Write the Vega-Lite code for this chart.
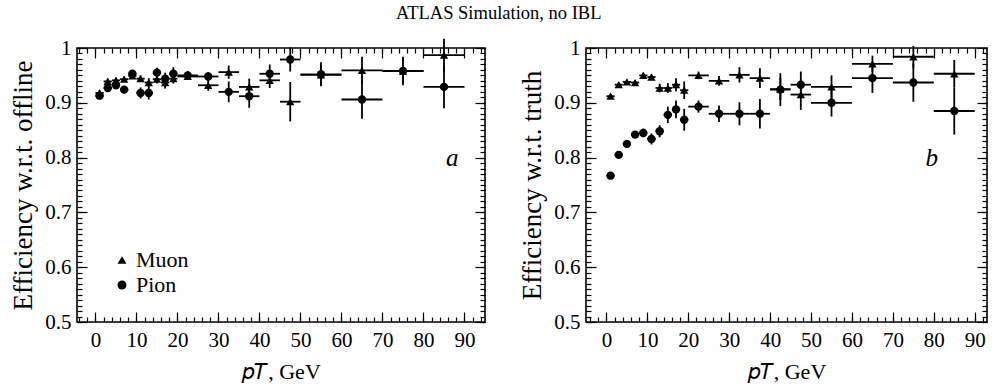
{
  "$schema": "https://vega.github.io/schema/vega-lite/v6.json",
  "padding": {"left": 8, "top": 3, "right": 0, "bottom": 0},
  "autosize": {"type": "pad"},
  "background": "white",
  "title": {"text": "ATLAS Simulation, no IBL", "font": "Liberation Serif", "fontSize": 18.5, "fontWeight": "normal", "color": "black", "anchor": "middle", "offset": 14},
  "config": {
    "font": "Liberation Serif",
    "view": {"stroke": "black", "strokeWidth": 1.6},
    "axis": {"grid": false, "domain": false, "ticks": true, "tickOpacity": 1, "tickColor": "black", "tickWidth": 1.2, "zindex": 2, "labelFont": "Liberation Serif", "labelFontSize": 21, "labelColor": "black", "titleFont": "Liberation Serif", "titleFontSize": 22, "titleFontWeight": "normal", "titleColor": "black", "labelOverlap": false, "labelFlush": false, "labelBound": false},
    "legend": {"labelFont": "Liberation Serif"}
  },
  "datasets": {
    "pts": [
      {"panel":"a","series":"Muon","pt":1,"lo":0,"hi":2,"eff":0.918,"err":0.005},
      {"panel":"a","series":"Muon","pt":3,"lo":2,"hi":4,"eff":0.939,"err":0.005},
      {"panel":"a","series":"Muon","pt":5,"lo":4,"hi":6,"eff":0.941,"err":0.005},
      {"panel":"a","series":"Muon","pt":7,"lo":6,"hi":8,"eff":0.943,"err":0.005},
      {"panel":"a","series":"Muon","pt":9,"lo":8,"hi":10,"eff":0.949,"err":0.005},
      {"panel":"a","series":"Muon","pt":11,"lo":10,"hi":12,"eff":0.944,"err":0.006},
      {"panel":"a","series":"Muon","pt":13,"lo":12,"hi":14,"eff":0.937,"err":0.008},
      {"panel":"a","series":"Muon","pt":15,"lo":14,"hi":16,"eff":0.943,"err":0.008},
      {"panel":"a","series":"Muon","pt":17,"lo":16,"hi":18,"eff":0.937,"err":0.011},
      {"panel":"a","series":"Muon","pt":19,"lo":18,"hi":20,"eff":0.944,"err":0.009},
      {"panel":"a","series":"Muon","pt":22.5,"lo":20,"hi":25,"eff":0.948,"err":0.006},
      {"panel":"a","series":"Muon","pt":27.5,"lo":25,"hi":30,"eff":0.932,"err":0.010},
      {"panel":"a","series":"Muon","pt":32.5,"lo":30,"hi":35,"eff":0.956,"err":0.012},
      {"panel":"a","series":"Muon","pt":37.5,"lo":35,"hi":40,"eff":0.929,"err":0.015},
      {"panel":"a","series":"Muon","pt":42.5,"lo":40,"hi":45,"eff":0.941,"err":0.014},
      {"panel":"a","series":"Muon","pt":47.5,"lo":45,"hi":50,"eff":0.902,"err":0.036},
      {"panel":"a","series":"Muon","pt":55,"lo":50,"hi":60,"eff":0.951,"err":0.018},
      {"panel":"a","series":"Muon","pt":65,"lo":60,"hi":70,"eff":0.959,"err":0.025},
      {"panel":"a","series":"Muon","pt":75,"lo":70,"hi":80,"eff":0.958,"err":0.022},
      {"panel":"a","series":"Muon","pt":85,"lo":80,"hi":90,"eff":0.987,"err":0.03},
      {"panel":"a","series":"Pion","pt":1,"lo":0,"hi":2,"eff":0.913,"err":0.005},
      {"panel":"a","series":"Pion","pt":3,"lo":2,"hi":4,"eff":0.927,"err":0.006},
      {"panel":"a","series":"Pion","pt":5,"lo":4,"hi":6,"eff":0.932,"err":0.006},
      {"panel":"a","series":"Pion","pt":7,"lo":6,"hi":8,"eff":0.924,"err":0.005},
      {"panel":"a","series":"Pion","pt":9,"lo":8,"hi":10,"eff":0.953,"err":0.006},
      {"panel":"a","series":"Pion","pt":11,"lo":10,"hi":12,"eff":0.918,"err":0.010},
      {"panel":"a","series":"Pion","pt":13,"lo":12,"hi":14,"eff":0.918,"err":0.012},
      {"panel":"a","series":"Pion","pt":15,"lo":14,"hi":16,"eff":0.955,"err":0.009},
      {"panel":"a","series":"Pion","pt":17,"lo":16,"hi":18,"eff":0.944,"err":0.011},
      {"panel":"a","series":"Pion","pt":19,"lo":18,"hi":20,"eff":0.953,"err":0.012},
      {"panel":"a","series":"Pion","pt":22.5,"lo":20,"hi":25,"eff":0.950,"err":0.008},
      {"panel":"a","series":"Pion","pt":27.5,"lo":25,"hi":30,"eff":0.948,"err":0.008},
      {"panel":"a","series":"Pion","pt":32.5,"lo":30,"hi":35,"eff":0.920,"err":0.019},
      {"panel":"a","series":"Pion","pt":37.5,"lo":35,"hi":40,"eff":0.912,"err":0.021},
      {"panel":"a","series":"Pion","pt":42.5,"lo":40,"hi":45,"eff":0.953,"err":0.017},
      {"panel":"a","series":"Pion","pt":47.5,"lo":45,"hi":50,"eff":0.979,"err":0.022},
      {"panel":"a","series":"Pion","pt":55,"lo":50,"hi":60,"eff":0.952,"err":0.022},
      {"panel":"a","series":"Pion","pt":65,"lo":60,"hi":70,"eff":0.906,"err":0.035},
      {"panel":"a","series":"Pion","pt":75,"lo":70,"hi":80,"eff":0.958,"err":0.026},
      {"panel":"a","series":"Pion","pt":85,"lo":80,"hi":90,"eff":0.929,"err":0.039},
      {"panel":"b","series":"Muon","pt":1,"lo":0,"hi":2,"eff":0.912,"err":0.004},
      {"panel":"b","series":"Muon","pt":3,"lo":2,"hi":4,"eff":0.933,"err":0.004},
      {"panel":"b","series":"Muon","pt":5,"lo":4,"hi":6,"eff":0.938,"err":0.004},
      {"panel":"b","series":"Muon","pt":7,"lo":6,"hi":8,"eff":0.937,"err":0.004},
      {"panel":"b","series":"Muon","pt":9,"lo":8,"hi":10,"eff":0.950,"err":0.005},
      {"panel":"b","series":"Muon","pt":11,"lo":10,"hi":12,"eff":0.947,"err":0.005},
      {"panel":"b","series":"Muon","pt":13,"lo":12,"hi":14,"eff":0.927,"err":0.008},
      {"panel":"b","series":"Muon","pt":15,"lo":14,"hi":16,"eff":0.927,"err":0.009},
      {"panel":"b","series":"Muon","pt":17,"lo":16,"hi":18,"eff":0.933,"err":0.012},
      {"panel":"b","series":"Muon","pt":19,"lo":18,"hi":20,"eff":0.923,"err":0.016},
      {"panel":"b","series":"Muon","pt":22.5,"lo":20,"hi":25,"eff":0.950,"err":0.007},
      {"panel":"b","series":"Muon","pt":27.5,"lo":25,"hi":30,"eff":0.940,"err":0.009},
      {"panel":"b","series":"Muon","pt":32.5,"lo":30,"hi":35,"eff":0.951,"err":0.014},
      {"panel":"b","series":"Muon","pt":37.5,"lo":35,"hi":40,"eff":0.945,"err":0.018},
      {"panel":"b","series":"Muon","pt":42.5,"lo":40,"hi":45,"eff":0.925,"err":0.020},
      {"panel":"b","series":"Muon","pt":47.5,"lo":45,"hi":50,"eff":0.915,"err":0.028},
      {"panel":"b","series":"Muon","pt":55,"lo":50,"hi":60,"eff":0.929,"err":0.021},
      {"panel":"b","series":"Muon","pt":65,"lo":60,"hi":70,"eff":0.971,"err":0.015},
      {"panel":"b","series":"Muon","pt":75,"lo":70,"hi":80,"eff":0.984,"err":0.02},
      {"panel":"b","series":"Muon","pt":85,"lo":80,"hi":90,"eff":0.953,"err":0.025},
      {"panel":"b","series":"Pion","pt":1,"lo":0,"hi":2,"eff":0.767,"err":0.003},
      {"panel":"b","series":"Pion","pt":3,"lo":2,"hi":4,"eff":0.805,"err":0.004},
      {"panel":"b","series":"Pion","pt":5,"lo":4,"hi":6,"eff":0.825,"err":0.005},
      {"panel":"b","series":"Pion","pt":7,"lo":6,"hi":8,"eff":0.842,"err":0.006},
      {"panel":"b","series":"Pion","pt":9,"lo":8,"hi":10,"eff":0.845,"err":0.008},
      {"panel":"b","series":"Pion","pt":11,"lo":10,"hi":12,"eff":0.834,"err":0.010},
      {"panel":"b","series":"Pion","pt":13,"lo":12,"hi":14,"eff":0.848,"err":0.011},
      {"panel":"b","series":"Pion","pt":15,"lo":14,"hi":16,"eff":0.878,"err":0.015},
      {"panel":"b","series":"Pion","pt":17,"lo":16,"hi":18,"eff":0.888,"err":0.016},
      {"panel":"b","series":"Pion","pt":19,"lo":18,"hi":20,"eff":0.869,"err":0.020},
      {"panel":"b","series":"Pion","pt":22.5,"lo":20,"hi":25,"eff":0.893,"err":0.011},
      {"panel":"b","series":"Pion","pt":27.5,"lo":25,"hi":30,"eff":0.880,"err":0.015},
      {"panel":"b","series":"Pion","pt":32.5,"lo":30,"hi":35,"eff":0.880,"err":0.021},
      {"panel":"b","series":"Pion","pt":37.5,"lo":35,"hi":40,"eff":0.880,"err":0.027},
      {"panel":"b","series":"Pion","pt":42.5,"lo":40,"hi":45,"eff":0.924,"err":0.030},
      {"panel":"b","series":"Pion","pt":47.5,"lo":45,"hi":50,"eff":0.933,"err":0.024},
      {"panel":"b","series":"Pion","pt":55,"lo":50,"hi":60,"eff":0.900,"err":0.025},
      {"panel":"b","series":"Pion","pt":65,"lo":60,"hi":70,"eff":0.945,"err":0.027},
      {"panel":"b","series":"Pion","pt":75,"lo":70,"hi":80,"eff":0.937,"err":0.035},
      {"panel":"b","series":"Pion","pt":85,"lo":80,"hi":90,"eff":0.885,"err":0.043}
    ],
    "ann": [
      {"panel":"a","pt":87,"eff":0.8,"label":"a"},
      {"panel":"b","pt":79.5,"eff":0.8,"label":"b"}
    ]
  },
  "spacing": 30,
  "resolve": {"scale": {"shape": "independent"}, "legend": {"shape": "independent"}},
  "hconcat": [
    {
      "width": 408, "height": 274,
      "resolve": {"axis": {"x": "independent", "y": "independent"}},
      "layer": [
        {
          "data": {"name": "pts"},
          "transform": [{"filter": "datum.panel === 'a'"}],
          "mark": {"type": "rule", "color": "black", "strokeWidth": 1.8},
          "encoding": {
            "x": {"field": "lo", "type": "quantitative", "scale": {"domain": [-4.5, 95], "nice": false, "zero": false},
              "axis": {"orient": "bottom", "values": [0,10,20,30,40,50,60,70,80,90], "tickSize": 10, "offset": -10, "labelPadding": 7, "format": "d", "title": "𝑝𝑇, GeV", "titlePadding": 11}},
            "x2": {"field": "hi"},
            "y": {"field": "eff", "type": "quantitative", "scale": {"domain": [0.5, 1], "nice": false, "zero": false},
              "axis": {"orient": "left", "values": [0.5,0.6,0.7,0.8,0.9,1], "tickSize": 10, "offset": -10, "labelPadding": 6, "format": ".1~f", "title": "Efficiency w.r.t. offline", "titleFontSize": 27, "titlePadding": 7}}
          }
        },
        {
          "data": {"name": "pts"},
          "transform": [{"filter": "datum.panel === 'a'"}],
          "mark": {"type": "errorbar", "color": "black", "thickness": 1.8},
          "encoding": {
            "x": {"field": "pt", "type": "quantitative",
              "axis": {"orient": "bottom", "values": [-4,-2,0,2,4,6,8,10,12,14,16,18,20,22,24,26,28,30,32,34,36,38,40,42,44,46,48,50,52,54,56,58,60,62,64,66,68,70,72,74,76,78,80,82,84,86,88,90,92,94], "tickSize": 5, "offset": -5, "labels": false, "title": null}},
            "y": {"field": "eff", "type": "quantitative",
              "axis": {"orient": "left", "values": [0.5,0.51,0.52,0.53,0.54,0.55,0.56,0.57,0.58,0.59,0.6,0.61,0.62,0.63,0.64,0.65,0.66,0.67,0.68,0.69,0.7,0.71,0.72,0.73,0.74,0.75,0.76,0.77,0.78,0.79,0.8,0.81,0.82,0.83,0.84,0.85,0.86,0.87,0.88,0.89,0.9,0.91,0.92,0.93,0.94,0.95,0.96,0.97,0.98,0.99,1], "tickSize": 5, "offset": -5, "labels": false, "title": null}},
            "yError": {"field": "err"}
          }
        },
        {
          "data": {"name": "pts"},
          "transform": [{"filter": "datum.panel === 'a'"}],
          "mark": {"type": "point", "filled": true, "color": "black", "opacity": 1, "size": 70},
          "encoding": {
            "x": {"field": "pt", "type": "quantitative",
              "axis": {"orient": "top", "values": [0,10,20,30,40,50,60,70,80,90], "tickSize": 10, "offset": -10, "labels": false, "title": null}},
            "y": {"field": "eff", "type": "quantitative",
              "axis": {"orient": "right", "values": [0.5,0.6,0.7,0.8,0.9,1], "tickSize": 10, "offset": -10, "labels": false, "title": null}},
            "shape": {"field": "series", "type": "nominal", "scale": {"domain": ["Muon", "Pion"], "range": ["triangle-up", "circle"]},
              "legend": {"orient": "none", "legendX": 34, "legendY": 201, "title": null, "padding": 0, "labelFont": "Liberation Serif", "labelFontSize": 22, "labelColor": "black", "symbolFillColor": "black", "symbolStrokeColor": "black", "symbolSize": 80, "rowPadding": 3, "labelOffset": 3}}
          }
        },
        {
          "data": {"name": "ann"},
          "transform": [{"filter": "datum.panel === 'a'"}],
          "mark": {"type": "text", "font": "Liberation Serif", "fontStyle": "italic", "fontSize": 25, "color": "black", "baseline": "middle", "align": "center"},
          "encoding": {
            "x": {"field": "pt", "type": "quantitative",
              "axis": {"orient": "top", "values": [-4,-2,0,2,4,6,8,10,12,14,16,18,20,22,24,26,28,30,32,34,36,38,40,42,44,46,48,50,52,54,56,58,60,62,64,66,68,70,72,74,76,78,80,82,84,86,88,90,92,94], "tickSize": 5, "offset": -5, "labels": false, "title": null}},
            "y": {"field": "eff", "type": "quantitative",
              "axis": {"orient": "right", "values": [0.5,0.51,0.52,0.53,0.54,0.55,0.56,0.57,0.58,0.59,0.6,0.61,0.62,0.63,0.64,0.65,0.66,0.67,0.68,0.69,0.7,0.71,0.72,0.73,0.74,0.75,0.76,0.77,0.78,0.79,0.8,0.81,0.82,0.83,0.84,0.85,0.86,0.87,0.88,0.89,0.9,0.91,0.92,0.93,0.94,0.95,0.96,0.97,0.98,0.99,1], "tickSize": 5, "offset": -5, "labels": false, "title": null}},
            "text": {"field": "label"}
          }
        }
      ]
    },
    {
      "width": 401, "height": 274,
      "resolve": {"axis": {"x": "independent", "y": "independent"}},
      "layer": [
        {
          "data": {"name": "pts"},
          "transform": [{"filter": "datum.panel === 'b'"}],
          "mark": {"type": "rule", "color": "black", "strokeWidth": 1.8},
          "encoding": {
            "x": {"field": "lo", "type": "quantitative", "scale": {"domain": [-5, 93], "nice": false, "zero": false},
              "axis": {"orient": "bottom", "values": [0,10,20,30,40,50,60,70,80,90], "tickSize": 10, "offset": -10, "labelPadding": 7, "format": "d", "title": "𝑝𝑇, GeV", "titlePadding": 11}},
            "x2": {"field": "hi"},
            "y": {"field": "eff", "type": "quantitative", "scale": {"domain": [0.5, 1], "nice": false, "zero": false},
              "axis": {"orient": "left", "values": [0.5,0.6,0.7,0.8,0.9,1], "tickSize": 10, "offset": -10, "labelPadding": 6, "format": ".1~f", "title": "Efficiency w.r.t. truth", "titleFontSize": 27, "titlePadding": 7}}
          }
        },
        {
          "data": {"name": "pts"},
          "transform": [{"filter": "datum.panel === 'b'"}],
          "mark": {"type": "errorbar", "color": "black", "thickness": 1.8},
          "encoding": {
            "x": {"field": "pt", "type": "quantitative",
              "axis": {"orient": "bottom", "values": [-4,-2,0,2,4,6,8,10,12,14,16,18,20,22,24,26,28,30,32,34,36,38,40,42,44,46,48,50,52,54,56,58,60,62,64,66,68,70,72,74,76,78,80,82,84,86,88,90,92], "tickSize": 5, "offset": -5, "labels": false, "title": null}},
            "y": {"field": "eff", "type": "quantitative",
              "axis": {"orient": "left", "values": [0.5,0.51,0.52,0.53,0.54,0.55,0.56,0.57,0.58,0.59,0.6,0.61,0.62,0.63,0.64,0.65,0.66,0.67,0.68,0.69,0.7,0.71,0.72,0.73,0.74,0.75,0.76,0.77,0.78,0.79,0.8,0.81,0.82,0.83,0.84,0.85,0.86,0.87,0.88,0.89,0.9,0.91,0.92,0.93,0.94,0.95,0.96,0.97,0.98,0.99,1], "tickSize": 5, "offset": -5, "labels": false, "title": null}},
            "yError": {"field": "err"}
          }
        },
        {
          "data": {"name": "pts"},
          "transform": [{"filter": "datum.panel === 'b'"}],
          "mark": {"type": "point", "filled": true, "color": "black", "opacity": 1, "size": 70},
          "encoding": {
            "x": {"field": "pt", "type": "quantitative",
              "axis": {"orient": "top", "values": [0,10,20,30,40,50,60,70,80,90], "tickSize": 10, "offset": -10, "labels": false, "title": null}},
            "y": {"field": "eff", "type": "quantitative",
              "axis": {"orient": "right", "values": [0.5,0.6,0.7,0.8,0.9,1], "tickSize": 10, "offset": -10, "labels": false, "title": null}},
            "shape": {"field": "series", "type": "nominal", "scale": {"domain": ["Muon", "Pion"], "range": ["triangle-up", "circle"]}, "legend": null}
          }
        },
        {
          "data": {"name": "ann"},
          "transform": [{"filter": "datum.panel === 'b'"}],
          "mark": {"type": "text", "font": "Liberation Serif", "fontStyle": "italic", "fontSize": 25, "color": "black", "baseline": "middle", "align": "center"},
          "encoding": {
            "x": {"field": "pt", "type": "quantitative",
              "axis": {"orient": "top", "values": [-4,-2,0,2,4,6,8,10,12,14,16,18,20,22,24,26,28,30,32,34,36,38,40,42,44,46,48,50,52,54,56,58,60,62,64,66,68,70,72,74,76,78,80,82,84,86,88,90,92], "tickSize": 5, "offset": -5, "labels": false, "title": null}},
            "y": {"field": "eff", "type": "quantitative",
              "axis": {"orient": "right", "values": [0.5,0.51,0.52,0.53,0.54,0.55,0.56,0.57,0.58,0.59,0.6,0.61,0.62,0.63,0.64,0.65,0.66,0.67,0.68,0.69,0.7,0.71,0.72,0.73,0.74,0.75,0.76,0.77,0.78,0.79,0.8,0.81,0.82,0.83,0.84,0.85,0.86,0.87,0.88,0.89,0.9,0.91,0.92,0.93,0.94,0.95,0.96,0.97,0.98,0.99,1], "tickSize": 5, "offset": -5, "labels": false, "title": null}},
            "text": {"field": "label"}
          }
        }
      ]
    }
  ]
}
